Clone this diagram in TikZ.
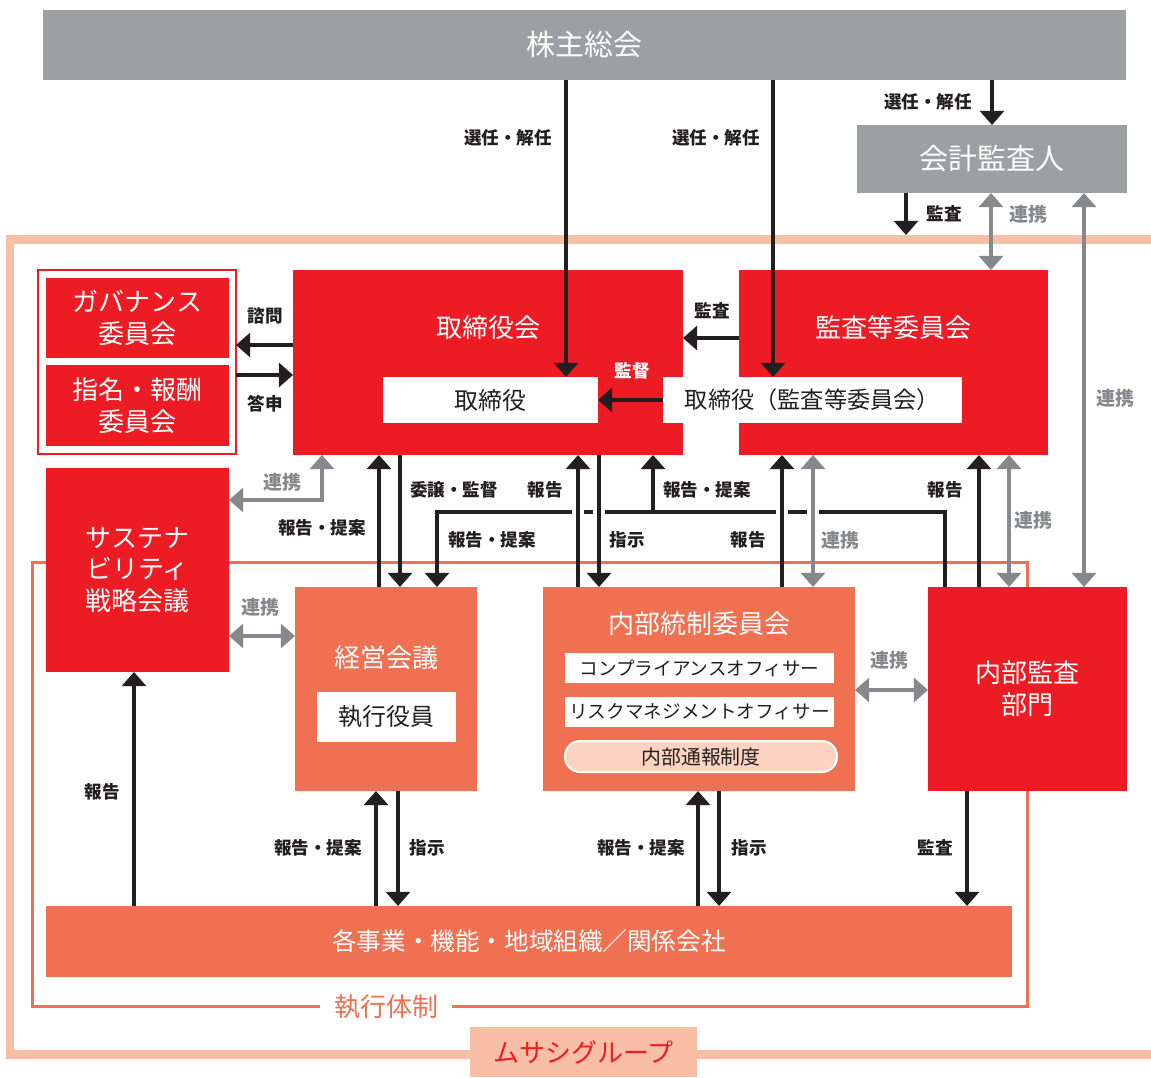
\documentclass[tikz,border=0pt]{standalone}
\usepackage{fontspec}
\setmainfont{Noto Sans CJK JP}
\usetikzlibrary{arrows.meta}
\definecolor{musred}{HTML}{ED1C24}
\definecolor{musorange}{HTML}{F07052}
\definecolor{musgray}{HTML}{9E9FA2}
\definecolor{muslink}{HTML}{87888B}
\definecolor{musframe}{HTML}{F9BEA6}
\definecolor{muspeach}{HTML}{FCD2C0}
\definecolor{musdark}{HTML}{231F20}
\begin{document}
\begin{tikzpicture}[x=0.02cm,y=-0.02cm,
    every node/.style={inner sep=0pt, outer sep=0pt},
    box/.style={rectangle, text=white, align=center},
    redbox/.style={box, fill=musred},
    orbox/.style={box, fill=musorange},
    graybox/.style={box, fill=musgray},
    whitebox/.style={rectangle, fill=white, text=musdark},
    blk/.style={draw=musdark, line width=2.3pt, -{Triangle[width=13.5pt,length=8pt]}},
    lnk/.style={draw=muslink, line width=2.3pt, {Triangle[width=13.5pt,length=8pt]}-{Triangle[width=13.5pt,length=8pt]}},
    lbl/.style={text=musdark, font=\fontsize{10}{12}\selectfont\bfseries},
    glbl/.style={text=muslink, font=\fontsize{10.8}{12}\selectfont\bfseries},
    bigttl/.style={font=\fontsize{16.5}{20}\selectfont},
    ttl/.style={font=\fontsize{14.8}{18.1}\selectfont},
    sub/.style={font=\fontsize{13.6}{16}\selectfont},
    small/.style={font=\fontsize{10.6}{12}\selectfont}]
  \useasboundingbox (0,0) rectangle (1151,1077);

  % frames
  \draw[musframe, line width=0.18cm] (1151,240) -- (10,240) -- (10,1054) -- (1151,1054);
  \coordinate (grptop) at (0,235);
  \draw[musorange, line width=0.06cm] (32,562) rectangle (1027,1006);
  \node[fill=white, text=musorange, inner xsep=0.28cm, inner ysep=2pt, ttl] (execlbl) at (386,1007) {執行体制};
  \node[fill=musframe, text=musred, minimum width=4.54cm, minimum height=1.0cm, ttl] (grplbl) at (583.5,1052) {ムサシグループ};

  % top
  \node[graybox, minimum width=21.66cm, minimum height=1.4cm, bigttl] (holders) at (584.5,45) {株主総会};
  \node[graybox, minimum width=5.4cm, minimum height=1.36cm, bigttl] (auditor) at (992,159) {会計監査人};

  % board
  \node[redbox, minimum width=7.8cm, minimum height=3.7cm] (board) at (488,362.5) {};
  \node[ttl, text=white] (boardttl) at (488,328) {取締役会};
  \node[whitebox, minimum width=4.3cm, minimum height=0.92cm, sub] (dir) at (490.5,400) {取締役};
  \node[redbox, minimum width=6.18cm, minimum height=3.7cm] (ac) at (893.5,362.5) {};
  \node[ttl, text=white] (acttl) at (893,328) {監査等委員会};
  \node[whitebox, minimum width=5.98cm, minimum height=0.92cm, font=\fontsize{13.2}{16}\selectfont] (acdir) at (812.5,400) {取締役（監査等委員会）};

  % committees
  \node[draw=musred, line width=0.04cm, minimum width=3.96cm, minimum height=3.68cm] (govframe) at (137,362) {};
  \node[redbox, minimum width=3.66cm, minimum height=1.6cm, ttl] (gov) at (137.5,318) {ガバナンス\\委員会};
  \node[redbox, minimum width=3.66cm, minimum height=1.62cm, ttl] (nom) at (137.5,405.5) {指名・報酬\\委員会};
  \node[redbox, minimum width=3.66cm, minimum height=4.08cm, ttl] (sus) at (137.5,570) {サステナ\\ビリティ\\戦略会議};

  % execution
  \node[orbox, minimum width=3.64cm, minimum height=4.08cm] (mgmt) at (386,689) {};
  \node[ttl, text=white] (mgmtttl) at (386,658) {経営会議};
  \node[whitebox, minimum width=2.78cm, minimum height=1.0cm, sub] (exec) at (386.5,717) {執行役員};
  \node[orbox, minimum width=6.24cm, minimum height=4.08cm] (ic) at (699,689) {};
  \node[ttl, text=white] (icttl) at (699,624) {内部統制委員会};
  \node[whitebox, minimum width=5.38cm, minimum height=0.6cm, small] (comp) at (699.5,668) {コンプライアンスオフィサー};
  \node[whitebox, minimum width=5.38cm, minimum height=0.6cm, small] (risk) at (699.5,712) {リスクマネジメントオフィサー};
  \node[fill=muspeach, draw=white, line width=0.04cm, rounded corners=0.3cm, text=musdark,
        minimum width=5.44cm, minimum height=0.62cm, font=\fontsize{11.3}{13}\selectfont] (whistle) at (701,756.5) {内部通報制度};
  \node[redbox, minimum width=3.98cm, minimum height=4.08cm, ttl] (ia) at (1027.5,689) {内部監査\\部門};
  \node[orbox, minimum width=19.32cm, minimum height=1.42cm, font=\fontsize{14}{16}\selectfont] (ops) at (529,941.5) {各事業・機能・地域組織／関係会社};

  % connectors from the top
  \draw[blk] (992,0 |- holders.south) -- (auditor.north);
  \draw[blk] (566,0 |- holders.south) -- (566,0 |- dir.north);
  \draw[blk] (773,0 |- holders.south) -- (773,0 |- acdir.north);
  \draw[blk] (906,0 |- auditor.south) -- (906,0 |- grptop);
  \draw[lnk] (991,0 |- auditor.south) -- (991,0 |- ac.north);
  \draw[lnk] (1084,0 |- auditor.south) -- (1084,0 |- ia.north);

  % board level
  \draw[blk] (ac.west |- 0,338) -- (board.east |- 0,338);
  \draw[blk] (acdir.west) -- (dir.east);
  \draw[blk] (board.west |- 0,345) -- (govframe.east |- 0,345);
  \draw[blk] (govframe.east |- 0,375) -- (board.west |- 0,375);
  \draw[lnk] (322,0 |- board.south) |- (sus.east |- 0,500);

  % report line of internal audit
  \coordinate (fork) at (653,512);
  \draw[blk] (945,0 |- ia.north) |- (437,512) -- (437,0 |- mgmt.north);
  \draw[blk] (fork) -- (653,0 |- board.south);
  \foreach \x in {578,599,782,813}
    \fill[white] (\x-6,505) rectangle (\x+6,519);

  \draw[blk] (379,0 |- mgmt.north) -- (379,0 |- board.south);
  \draw[blk] (400,0 |- board.south) -- (400,0 |- mgmt.north);
  \draw[blk] (578,0 |- ic.north) -- (578,0 |- board.south);
  \draw[blk] (599,0 |- board.south) -- (599,0 |- ic.north);
  \draw[blk] (782,0 |- ic.north) -- (782,0 |- ac.south);
  \draw[lnk] (813,0 |- ic.north) -- (813,0 |- ac.south);
  \draw[blk] (979,0 |- ia.north) -- (979,0 |- ac.south);
  \draw[lnk] (1009,0 |- ia.north) -- (1009,0 |- ac.south);
  \draw[lnk] (ic.east |- 0,690) -- (ia.west |- 0,690);
  \draw[lnk] (sus.east |- 0,636) -- (mgmt.west |- 0,636);

  % lower level
  \draw[blk] (376,0 |- ops.north) -- (376,0 |- mgmt.south);
  \draw[blk] (398,0 |- mgmt.south) -- (398,0 |- ops.north);
  \draw[blk] (698,0 |- ops.north) -- (698,0 |- ic.south);
  \draw[blk] (719,0 |- ic.south) -- (719,0 |- ops.north);
  \draw[blk] (134,0 |- ops.north) -- (134,0 |- sus.south);
  \draw[blk] (967,0 |- ia.south) -- (967,0 |- ops.north);

  % labels
  \node[lbl] (lelect1) at (928,102) {選任・解任};
  \node[lbl] (lelect2) at (508,138) {選任・解任};
  \node[lbl] (lelect3) at (716,138) {選任・解任};
  \node[lbl] (laudit1) at (944,214) {監査};
  \node[glbl] (llink1) at (1028,214) {連携};
  \node[glbl] (llink2) at (1115,398) {連携};
  \node[lbl] (laudit2) at (712,311) {監査};
  \node[lbl, text=white] (lsuper) at (632,371) {監督};
  \node[lbl] (lconsult) at (265,316) {諮問};
  \node[lbl] (lanswer) at (265,404) {答申};
  \node[glbl] (llink3) at (282,482) {連携};
  \node[lbl] (lprop1) at (322,528) {報告・提案};
  \node[lbl] (ldeleg) at (454,490) {委譲・監督};
  \node[lbl] (lrep1) at (545,490) {報告};
  \node[lbl] (lprop2) at (707,490) {報告・提案};
  \node[lbl] (lrep2) at (945,490) {報告};
  \node[lbl] (lprop3) at (492,540) {報告・提案};
  \node[lbl] (linstr1) at (627,540) {指示};
  \node[lbl] (lrep3) at (748,540) {報告};
  \node[glbl] (llink4) at (840,540) {連携};
  \node[glbl] (llink5) at (1033,520) {連携};
  \node[glbl] (llink6) at (260,607) {連携};
  \node[glbl] (llink7) at (889,660) {連携};
  \node[lbl] (lrep4) at (102,792) {報告};
  \node[lbl] (lprop4) at (318,848) {報告・提案};
  \node[lbl] (linstr2) at (427,848) {指示};
  \node[lbl] (lprop5) at (641,848) {報告・提案};
  \node[lbl] (linstr3) at (749,848) {指示};
  \node[lbl] (laudit3) at (935,848) {監査};
\end{tikzpicture}
\end{document}
